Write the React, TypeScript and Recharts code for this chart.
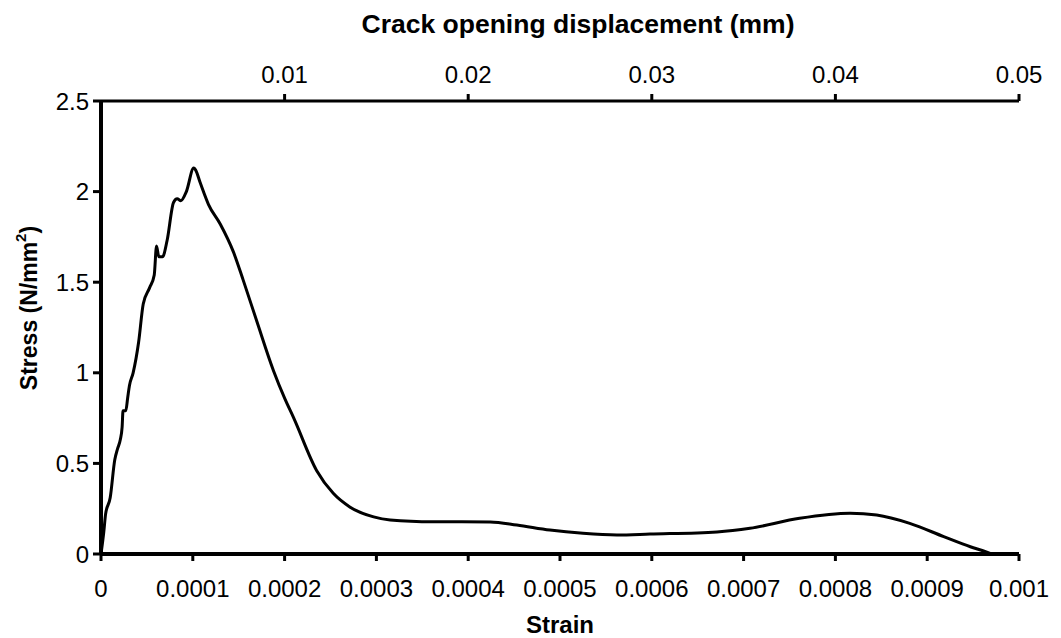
import { LineChart, Line, XAxis, YAxis, Label } from 'recharts';

// strain (-) against stress (N/mm2)
const strainValues = [
  0, 0.000003, 0.000005, 0.00001, 0.000015, 0.000018, 0.000021, 0.000023, 0.000024,
  0.000027, 0.000029, 0.000031, 0.000035, 0.000041, 0.000046, 0.000053, 0.000058,
  0.0000605, 0.000063, 0.000067, 0.000072, 0.000079, 0.000083, 0.000087, 0.000093,
  0.000101, 0.000103, 0.000108, 0.000117, 0.00013, 0.000144, 0.000155, 0.00017,
  0.000188, 0.0002, 0.00021, 0.000235, 0.000253, 0.000271, 0.000297, 0.000315,
  0.000362, 0.000424, 0.000453, 0.000489, 0.000525, 0.000562, 0.000598, 0.000671,
  0.000707, 0.000761, 0.000816, 0.000845, 0.000881, 0.000918, 0.000947, 0.000965,
  0.00097,
];
const stressValues = [
  0, 0.12, 0.22, 0.31, 0.52, 0.58, 0.63, 0.7, 0.79,
  0.79, 0.86, 0.93, 1.0, 1.17, 1.38, 1.47, 1.54,
  1.7, 1.64, 1.64, 1.73, 1.94, 1.96, 1.95, 2.0,
  2.13, 2.12, 2.05, 1.93, 1.82, 1.67, 1.51, 1.28,
  1.01, 0.86, 0.75, 0.46, 0.335, 0.26, 0.205, 0.188,
  0.178, 0.177, 0.16, 0.132, 0.114, 0.105, 0.11, 0.122,
  0.142, 0.197, 0.225, 0.215, 0.169, 0.096, 0.04, 0.01,
  0,
];

const strainTicks = [0, 0.0001, 0.0002, 0.0003, 0.0004, 0.0005, 0.0006, 0.0007, 0.0008, 0.0009, 0.001];
// crack opening displacement (mm) = strain x 50 mm gauge length
const GAUGE_MM = 50;
const codTicks = [0.01, 0.02, 0.03, 0.04, 0.05];
const stressTicks = [0, 0.5, 1, 1.5, 2, 2.5];

const data = strainValues.map((strain, i) => ({ strain, stress: stressValues[i] }));

const FONT = '"Liberation Sans", Arial, Helvetica, sans-serif';
const tickStyle = { fill: '#000', fontSize: 24, fontFamily: FONT };

export default function App() {
  return (
    <div style={{ position: 'absolute', left: 0, top: 0, width: 1061, height: 638, background: '#fff' }}>
      <LineChart
        width={1061}
        height={638}
        data={data}
        margin={{ top: 51, right: 42, bottom: 44, left: 41 }}
      >
        <XAxis
          type="number"
          dataKey="strain"
          domain={[0, 0.001]}
          ticks={strainTicks}
          interval={0}
          tick={tickStyle}
          tickSize={7}
          tickMargin={19}
          height={40}
          axisLine={{ stroke: '#000', strokeWidth: 4 }}
          tickLine={{ stroke: '#000', strokeWidth: 3 }}
        >
          <Label
            content={({ viewBox }: any) => (
              <text
                x={viewBox.x + viewBox.width / 2}
                y={viewBox.y + 79}
                textAnchor="middle"
                fontFamily={FONT}
                fontSize={24}
                fontWeight="bold"
                fill="#000"
              >
                Strain
              </text>
            )}
          />
        </XAxis>
        <XAxis
          xAxisId="top"
          orientation="top"
          type="number"
          dataKey="strain"
          domain={[0, 0.001]}
          ticks={codTicks.map((d) => d / GAUGE_MM)}
          tickFormatter={(v: number) => (v * GAUGE_MM).toFixed(2)}
          interval={0}
          tick={tickStyle}
          tickSize={7}
          tickMargin={11}
          height={50}
          axisLine={{ stroke: '#000', strokeWidth: 3 }}
          tickLine={{ stroke: '#000', strokeWidth: 3 }}
        >
          <Label
            content={({ viewBox }: any) => (
              <text
                x={viewBox.x + viewBox.width / 2 + 18}
                y={viewBox.y + viewBox.height - 68}
                textAnchor="middle"
                fontFamily={FONT}
                fontSize={26.5}
                fontWeight="bold"
                fill="#000"
              >
                Crack opening displacement (mm)
              </text>
            )}
          />
        </XAxis>
        <YAxis
          type="number"
          domain={[0, 2.5]}
          ticks={stressTicks}
          interval={0}
          tick={tickStyle}
          tickSize={8}
          tickMargin={4}
          width={60}
          axisLine={{ stroke: '#000', strokeWidth: 4 }}
          tickLine={{ stroke: '#000', strokeWidth: 3 }}
        >
          <Label
            content={() => (
              <text
                x={29}
                y={308}
                transform="rotate(-90 29 308)"
                textAnchor="middle"
                dominantBaseline="central"
                fontFamily={FONT}
                fontSize={23}
                fontWeight="bold"
                fill="#000"
              >
                Stress (N/mm<tspan fontSize={15} dy={-9}>2</tspan>
                <tspan dy={9}>)</tspan>
              </text>
            )}
          />
        </YAxis>
        {/* same curve bound to the displacement axis so it gets a scale; not stroked */}
        <Line
          xAxisId="top"
          type="monotone"
          dataKey="stress"
          stroke="none"
          dot={false}
          activeDot={false}
          isAnimationActive={false}
        />
        <Line
          type="monotone"
          dataKey="stress"
          stroke="#000"
          strokeWidth={3}
          dot={false}
          isAnimationActive={false}
        />
      </LineChart>
    </div>
  );
}
